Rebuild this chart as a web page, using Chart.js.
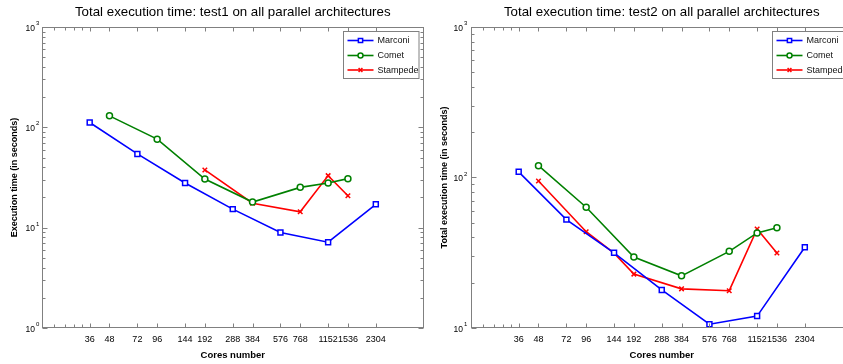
<!DOCTYPE html>
<html><head><meta charset="utf-8">
<script src="https://cdn.jsdelivr.net/npm/chart.js@4.4.0/dist/chart.umd.min.js"></script>
<style>
html,body{margin:0;padding:0;background:#fff;overflow:hidden;width:843px;height:364px;position:relative;}
#c1{position:absolute;left:0;top:0;width:429px;height:364px;}
#c2{position:absolute;left:426px;top:0;width:432px;height:364px;}
</style></head><body>
<div id="c1"><canvas id="a"></canvas></div>
<div id="c2"><canvas id="b"></canvas></div>
<script>
// ---- data ----
const coreTicks = [36, 48, 72, 96, 144, 192, 288, 384, 576, 768, 1152, 1536, 2304];
const minorXTicks = [21.3, 25, 28.6, 32.2];
const seriesNames = ['Marconi', 'Comet', 'Stampede'];

// test1
const t1MarconiCores = [36, 72, 144, 288, 576, 1152, 2304];
const t1MarconiTimes = [111.7, 54.3, 27.9, 15.3, 8.95, 7.16, 17.1];
const t1CometCores = [48, 96, 192, 384, 768, 1152, 1536];
const t1CometTimes = [130, 76.2, 30.5, 18.0, 25.2, 27.9, 30.8];
const t1StampedeCores = [192, 384, 768, 1152, 1536];
const t1StampedeTimes = [37.6, 17.5, 14.4, 33.0, 20.8];

// test2
const t2MarconiCores = [36, 72, 144, 288, 576, 1152, 2304];
const t2MarconiTimes = [109, 52.5, 31.6, 17.9, 10.6, 12.0, 34.4];
const t2CometCores = [48, 96, 192, 384, 768, 1152, 1536];
const t2CometTimes = [119.8, 63.4, 29.6, 22.2, 32.3, 42.8, 46.4];
const t2StampedeCores = [48, 96, 144, 192, 384, 768, 1152, 1536];
const t2StampedeTimes = [94.8, 43.6, 31.4, 22.8, 18.2, 17.7, 45.5, 31.5];

const FONT = "'Liberation Sans', Arial, Helvetica, sans-serif";
Chart.defaults.font.family = FONT;

const styles = [
  {color: '#0000ff', pointStyle: 'rect', radius: 3.5},
  {color: '#008000', pointStyle: 'circle', radius: 3},
  {color: '#ff0000', pointStyle: 'crossRot', radius: 3.2}
];

function mkDataset(i, cores, times) {
  const s = styles[i];
  return {
    label: seriesNames[i],
    data: cores.map((c, k) => ({x: c, y: times[k]})),
    borderColor: s.color, backgroundColor: '#ffffff',
    pointStyle: s.pointStyle, pointRadius: s.radius, pointBorderWidth: 1.5,
    pointBorderColor: s.color, pointBackgroundColor: '#ffffff',
    borderWidth: 1.6, tension: 0, clip: false
  };
}

const framePlugin = {
  id: 'frame',
  afterDraw(chart, args, o) {
    const {ctx} = chart;
    const {left, right, top, bottom} = chart.chartArea;
    const x = chart.scales.x, y = chart.scales.y;
    ctx.save();
    ctx.strokeStyle = '#808080';
    ctx.lineWidth = 1;
    const L = Math.round(left) + 0.5, R = Math.round(right) - 0.5, T = Math.round(top) + 0.5, B = Math.round(bottom) - 0.5;
    ctx.strokeRect(L, T, R - L, B - T);
    ctx.beginPath();
    // y ticks
    const d0 = Math.round(Math.log10(y.min)), d1 = Math.round(Math.log10(y.max));
    for (let d = d0; d <= d1; d++) {
      for (let m = 1; m <= 9; m++) {
        const v = m * Math.pow(10, d);
        if (v < y.min - 1e-9 || v > y.max + 1e-9) continue;
        const py = Math.round(y.getPixelForValue(v)) + 0.5;
        const len = m === 1 ? 5 : 3;
        ctx.moveTo(L, py); ctx.lineTo(L + len, py);
        ctx.moveTo(R, py); ctx.lineTo(R - len, py);
      }
    }
    // x ticks
    coreTicks.forEach(v => {
      const px = Math.round(x.getPixelForValue(v)) + 0.5;
      ctx.moveTo(px, B); ctx.lineTo(px, B - 4);
      ctx.moveTo(px, T); ctx.lineTo(px, T + 4);
    });
    minorXTicks.forEach(v => {
      const px = Math.round(x.getPixelForValue(v)) + 0.5;
      ctx.moveTo(px, B); ctx.lineTo(px, B - 3);
      ctx.moveTo(px, T); ctx.lineTo(px, T + 3);
    });
    ctx.stroke();
    // y tick labels 10^d
    ctx.fillStyle = '#000';
    for (let d = d0; d <= d1; d++) {
      const py = y.getPixelForValue(Math.pow(10, d));
      ctx.font = '8.5px ' + FONT;
      ctx.textAlign = 'right'; ctx.textBaseline = 'middle';
      ctx.fillText('10', left - o.labelGap, py + 1.5);
      ctx.font = '6px ' + FONT;
      ctx.textAlign = 'left';
      ctx.fillText(String(d), left - o.labelGap + 1, py - 3.5);
    }
    // legend
    const bx = Math.round(right - 81) + 0.5, by = 31.5, bw = 75.5, bh = 47;
    ctx.fillStyle = '#fff';
    ctx.fillRect(bx, by, bw, bh);
    ctx.strokeStyle = '#808080';
    ctx.strokeRect(bx, by, bw, bh);
    const rows = [9, 24, 38.5];
    chart.data.datasets.forEach((ds, i) => {
      const ry = by + rows[i];
      ctx.strokeStyle = ds.borderColor; ctx.lineWidth = 1.6;
      ctx.beginPath(); ctx.moveTo(bx + 4, ry); ctx.lineTo(bx + 30, ry); ctx.stroke();
      ctx.fillStyle = '#fff';
      ctx.lineWidth = 1.5;
      Chart.helpers.drawPoint(ctx, {pointStyle: ds.pointStyle, radius: ds.pointRadius - 0.5, rotation: 0, borderWidth: 1.5}, bx + 17, ry);
      ctx.fillStyle = '#111';
      ctx.font = '9px ' + FONT;
      ctx.textAlign = 'left'; ctx.textBaseline = 'middle';
      ctx.fillText(ds.label, bx + 34, ry + 0.5);
    });
    ctx.restore();
  }
};

function makeChart(id, datasets, cfg) {
  return new Chart(document.getElementById(id), {
    type: 'line',
    data: {datasets},
    plugins: [framePlugin],
    options: {
      responsive: true, maintainAspectRatio: false, animation: false,
      layout: {padding: {left: 0, right: cfg.rightPad, top: 0, bottom: 0}},
      plugins: {
        legend: {display: false}, tooltip: {enabled: false},
        title: {display: true, fullSize: false, text: cfg.title, color: '#000',
          font: {size: 13.3, weight: 'normal', family: FONT, lineHeight: 1.2},
          padding: {top: 4.7, bottom: 6.3}},
        frame: {labelGap: cfg.labelGap}
      },
      scales: {
        x: {
          type: 'logarithmic', min: 18, max: 4608,
          grid: {display: false, drawTicks: false}, border: {display: false},
          afterBuildTicks: s => { s.ticks = coreTicks.map(v => ({value: v})); },
          afterFit: s => { s.height = 36; },
          ticks: {autoSkip: false, maxRotation: 0, minRotation: 0, color: '#000',
            font: {size: 9, family: FONT}, padding: 6,
            callback: v => String(v)},
          title: {display: true, text: 'Cores number', color: '#000',
            font: {size: 9.5, weight: 'bold', family: FONT, lineHeight: 1.2},
            padding: {top: 0, bottom: 3}}
        },
        y: {
          type: 'logarithmic', min: cfg.yMin, max: cfg.yMax,
          grid: {display: false}, border: {display: false},
          ticks: {display: false},
          afterFit: s => { s.width = cfg.yWidth; },
          title: {display: true, text: cfg.yTitle, color: '#000',
            font: {size: 9, weight: 'bold', family: FONT, lineHeight: 1.2},
            padding: {top: cfg.yTitlePad, bottom: 0}}
        }
      }
    }
  });
}

makeChart('a', [
  mkDataset(0, t1MarconiCores, t1MarconiTimes),
  mkDataset(1, t1CometCores, t1CometTimes),
  mkDataset(2, t1StampedeCores, t1StampedeTimes)
], {title: 'Total execution time: test1 on all parallel architectures',
    yTitle: 'Execution time (in seconds)', yMin: 1, yMax: 1000,
    yWidth: 42, rightPad: 2, yTitlePad: 9.6, labelGap: 7});

makeChart('b', [
  mkDataset(0, t2MarconiCores, t2MarconiTimes),
  mkDataset(1, t2CometCores, t2CometTimes),
  mkDataset(2, t2StampedeCores, t2StampedeTimes)
], {title: 'Total execution time: test2 on all parallel architectures',
    yTitle: 'Total execution time (in seconds)', yMin: 10, yMax: 1000,
    yWidth: 45, rightPad: 2, yTitlePad: 13.6, labelGap: 8});
</script>
</body></html>
